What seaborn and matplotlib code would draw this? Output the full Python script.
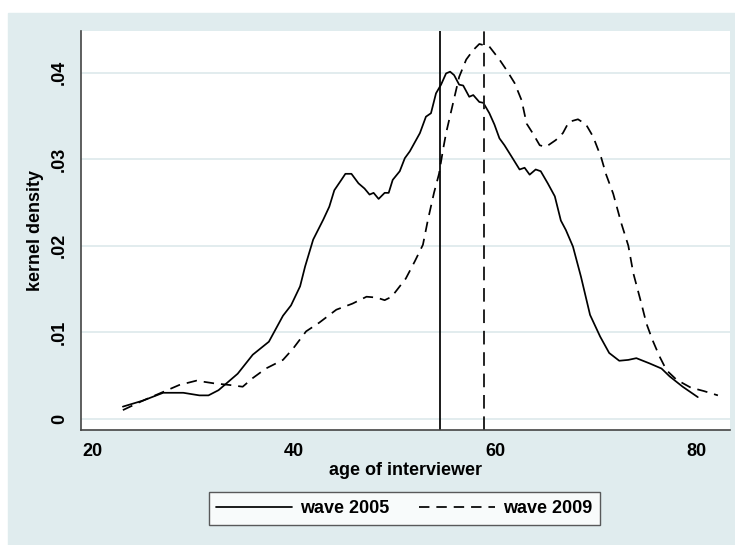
import numpy as np
import pandas as pd
import seaborn as sns
import matplotlib.pyplot as plt
from matplotlib.patches import Rectangle
from matplotlib.lines import Line2D

# kernel density of interviewer age
age_2005 = [23.0, 25.0, 27.0, 29.0, 30.6, 31.5, 32.5, 34.4, 35.9, 37.5, 38.9, 39.7,
            40.6, 41.1, 41.9, 42.9, 43.5, 44.0, 44.7, 45.1, 45.7, 46.4, 47.0, 47.5,
            47.9, 48.4, 49.0, 49.4, 49.8, 50.5, 51.0, 51.5, 52.5, 53.1, 53.6, 54.1,
            54.6, 55.1, 55.5, 55.9, 56.4, 56.8, 57.4, 57.8, 58.4, 58.8, 59.4, 59.9,
            60.4, 60.9, 61.6, 62.4, 62.9, 63.4, 64.0, 64.5, 65.2, 65.9, 66.5, 67.0,
            67.7, 68.5, 69.4, 70.4, 71.3, 72.3, 73.2, 74.0, 75.3, 76.5, 77.3, 78.6, 80.1]
dens_2005 = [.0014, .0021, .0030, .0030, .0027, .0027, .0033, .0052, .0074, .0089, .0119, .0131,
             .0153, .0176, .0207, .0230, .0245, .0264, .0276, .0283, .0283, .0272, .0266, .0259,
             .0261, .0254, .0261, .0261, .0276, .0286, .0301, .0309, .0330, .0349, .0353, .0376,
             .0386, .0399, .0401, .0397, .0386, .0385, .0372, .0374, .0366, .0365, .0353, .0340,
             .0324, .0316, .0303, .0288, .0290, .0282, .0288, .0286, .0272, .0257, .0229, .0218,
             .0199, .0164, .0120, .0095, .0076, .0067, .0068, .0070, .0064, .0058, .0049, .0037, .0025]

age_2009 = [23.0, 25.0, 27.0, 28.6, 30.3, 32.0, 33.6, 34.9, 35.9, 37.2, 38.9, 39.9,
            41.2, 42.5, 44.2, 45.8, 47.2, 48.2, 49.0, 49.7, 51.1, 52.0, 52.8, 53.3,
            53.9, 54.4, 54.8, 55.1, 55.8, 56.4, 57.1, 57.8, 58.4, 59.4, 60.4, 61.1,
            61.9, 62.6, 63.1, 63.7, 64.4, 65.0, 66.0, 66.7, 67.3, 68.2, 69.0, 69.7,
            70.5, 71.0, 71.7, 72.5, 73.2, 73.7, 74.5, 75.0, 75.6, 76.3, 77.0, 78.0,
            79.4, 80.7, 82.1]
dens_2009 = [.0010, .0021, .0031, .0039, .0044, .0041, .0039, .0037, .0047, .0058, .0068, .0081,
             .0101, .0111, .0126, .0133, .0141, .0140, .0137, .0141, .0162, .0182, .0201, .0230,
             .0261, .0283, .0311, .0330, .0365, .0395, .0415, .0426, .0433, .0430, .0415, .0403,
             .0388, .0368, .0341, .0330, .0316, .0314, .0322, .0330, .0343, .0346, .0340, .0326,
             .0302, .0282, .0260, .0226, .0200, .0168, .0133, .0110, .0091, .0072, .0056, .0045,
             .0036, .0032, .0027]

mean_2005 = 54.5
mean_2009 = 58.9

x_ticks = [20, 40, 60, 80]
x_tick_labels = ['20', '40', '60', '80']
y_ticks = [0, .01, .02, .03, .04]
y_tick_labels = ['0', '.01', '.02', '.03', '.04']

BG = '#E0ECEE'
GRID = '#DFEAED'
AXC = '#444444'
DASH = (0, (6, 4))
FS = 13

df = pd.concat([
    pd.DataFrame({'age': age_2005, 'density': dens_2005, 'wave': 'wave 2005'}),
    pd.DataFrame({'age': age_2009, 'density': dens_2009, 'wave': 'wave 2009'}),
])

sns.set_style('white')
plt.rcParams['font.family'] = ['Liberation Sans', 'DejaVu Sans']
plt.rcParams['font.weight'] = 'bold'
plt.rcParams['font.size'] = FS
plt.rcParams['text.color'] = 'black'
plt.rcParams['axes.labelcolor'] = 'black'
plt.rcParams['xtick.color'] = 'black'
plt.rcParams['ytick.color'] = 'black'

fig = plt.figure(figsize=(7.35, 5.45), dpi=100, facecolor='white')
fig.patches.append(Rectangle((8 / 735, 0), 727 / 735, 532 / 545,
                             transform=fig.transFigure, color=BG, zorder=-5))
ax = fig.add_axes([81 / 735, 1 - 430 / 545, 649 / 735, 399 / 545])
ax.set_facecolor('white')

sns.lineplot(data=df, x='age', y='density', style='wave',
             dashes={'wave 2005': '', 'wave 2009': (6, 4)},
             color='black', lw=1.25, ax=ax, legend=False, estimator=None)

ax.axvline(mean_2005, color='black', lw=1.25)
ax.axvline(mean_2009, color='#222222', lw=1.4, linestyle=(0, (7, 4)))

ax.set_xlim(18.84, 83.3)
ax.set_ylim(-0.0013, 0.0448)
ax.set_xticks(x_ticks)
ax.set_xticklabels(x_tick_labels)
ax.set_yticks(y_ticks)
ax.set_yticklabels(y_tick_labels, rotation=90, va='center')
ax.yaxis.grid(True, color=GRID, lw=1.3)
ax.set_axisbelow(True)

for s in ['top', 'right']:
    ax.spines[s].set_visible(False)
for s in ['left', 'bottom']:
    ax.spines[s].set_color(AXC)
    ax.spines[s].set_linewidth(1.2)
ax.tick_params(direction='out', length=5.5, width=0.9, color=AXC, pad=4,
               labelsize=FS, labelcolor='black')

ax.set_xlabel('age of interviewer', fontsize=FS, fontweight='bold', labelpad=1)
ax.set_ylabel('kernel density', fontsize=FS, fontweight='bold', labelpad=5)

handles = [Line2D([], [], color='black', lw=1.25),
           Line2D([], [], color='black', lw=1.25, linestyle=DASH)]
leg = fig.legend(handles, ['wave 2005', 'wave 2009'], loc='center',
                 bbox_to_anchor=(404.5 / 735, 1 - 508.5 / 545), ncol=2,
                 frameon=True, fancybox=False, edgecolor='#333333',
                 handlelength=4.2, handletextpad=0.45, columnspacing=1.65,
                 borderpad=0.42, prop={'weight': 'bold', 'size': FS})
leg.get_frame().set_linewidth(1.0)

fig.savefig('out.png', dpi=100, facecolor='white')
